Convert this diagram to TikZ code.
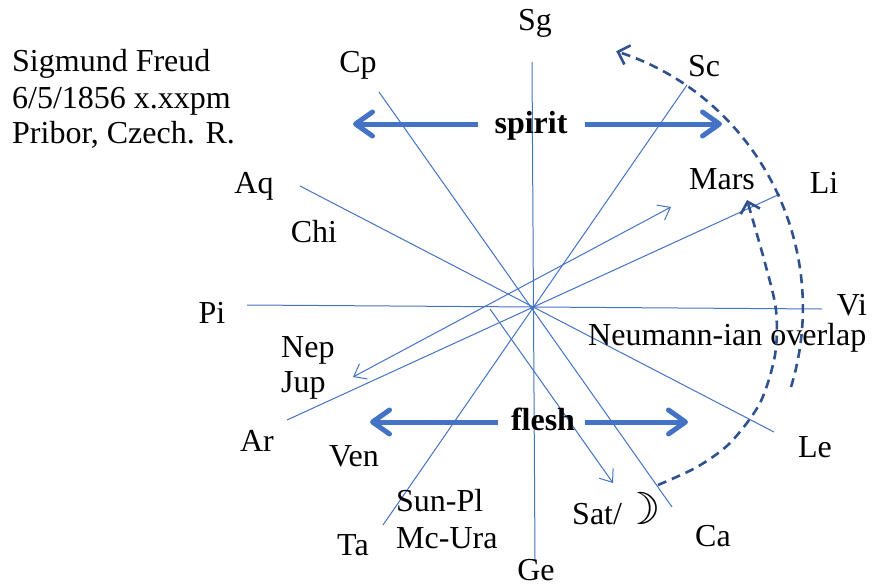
\documentclass[tikz,border=0pt]{standalone}
\usepackage{fontspec}
\setmainfont{Liberation Serif}
\newfontfamily\symfont{DejaVu Sans}
\usetikzlibrary{arrows.meta}
\definecolor{wblue}{RGB}{68,114,196}
\definecolor{wdark}{RGB}{47,82,143}

\begin{document}
\begin{tikzpicture}[
  x=1pt, y=-1pt,
  font=\fontsize{32}{36}\selectfont,
  lab/.style={inner sep=0pt, anchor=base},
  labl/.style={inner sep=0pt, anchor=base west},
  spoke/.style={wblue, line width=1pt},
  aspect/.style={spoke, -{Straight Barb[length=11pt, width=17pt]}},
  opposition/.style={spoke, {Straight Barb[length=11pt, width=17pt]}-{Straight Barb[length=11pt, width=17pt]}},
  polarity/.style={wblue, line width=5pt, -{Straight Barb[length=17pt, width=24pt, round]}},
  sweep/.style={wdark, line width=2.6pt, dash pattern=on 9pt off 6pt, -{Straight Barb[length=10pt, width=20pt]}},
]
\useasboundingbox (0,0) rectangle (875,586);

% ---- spoke ends (chart centre at c)
\coordinate (c)   at (533,308);
\coordinate (sg0) at (532,62);  \coordinate (ge0) at (535,560);
\coordinate (cp0) at (379,92);  \coordinate (ca0) at (672,507);
\coordinate (sc0) at (687,85);  \coordinate (ta0) at (383,525);
\coordinate (aq0) at (300,186); \coordinate (le0) at (774,432);
\coordinate (pi0) at (247,305); \coordinate (vi0) at (822,309);
\coordinate (ar0) at (287,420); \coordinate (li0) at (780,194);

% ---- planet arrows
\coordinate (nep0)  at (353,377); \coordinate (mars0) at (671,207);
\coordinate (sat1)  at (490,309); \coordinate (sat0)  at (613,483);

% ---- spirit / flesh arrows
\coordinate (spL) at (478,124); \coordinate (spLt) at (353,124);
\coordinate (spR) at (585,124); \coordinate (spRt) at (722,124);
\coordinate (flL) at (498,422); \coordinate (flLt) at (370,422);
\coordinate (flR) at (585,422); \coordinate (flRt) at (688,422);

% ---- overlap sweeps
\coordinate (ovl0) at (791,387);
\coordinate (ovl1) at (658,485); \coordinate (ovl2) at (747,200);

% ---- spokes
\draw[spoke] (sg0) -- (ge0);
\draw[spoke] (cp0) -- (ca0);
\draw[spoke] (sc0) -- (ta0);
\draw[spoke] (aq0) -- (le0);
\draw[spoke] (pi0) -- (vi0);
\draw[spoke] (ar0) -- (li0);
\draw[opposition] (nep0) -- (mars0);
\draw[aspect] (sat1) -- (sat0);

% ---- sign labels
\node[lab] (sg) at (535,31)  {Sg};
\node[lab] (cp) at (358,73)  {Cp};
\node[lab] (sc) at (704,76)  {Sc};
\node[lab] (aq) at (254,193) {Aq};
\node[lab] (li) at (824,193) {Li};
\node[lab] (pi) at (212,323) {Pi};
\node[lab] (vi) at (852,315) {Vi};
\node[lab] (ar) at (257,451) {Ar};
\node[lab] (le) at (815,457) {Le};
\node[lab] (ta) at (353,555) {Ta};
\node[lab] (ca) at (713,546) {Ca};
\node[lab] (ge) at (536,580) {Ge};

% ---- planet labels
\node[lab]  (chi)  at (314,242) {Chi};
\node[lab]  (mars) at (722,189) {Mars};
\node[labl] (nep)  at (281,357) {Nep};
\node[labl] (jup)  at (281,392) {Jup};
\node[lab]  (ven)  at (354,466) {Ven};
\node[labl] (sun)  at (396,511) {Sun-Pl};
\node[labl] (mc)   at (396,548) {Mc-Ura};
\node[labl] (sat)  at (572,524) {Sat/{\symfont\fontsize{44}{48}\selectfont ☽}};
\node[labl] (ovl)  at (588,345) {Neumann-ian overlap};

% ---- chart data
\node[labl] (who)   at (12,71)  {Sigmund Freud};
\node[labl] (born)  at (12,108) {6/5/1856 x.xxpm};
\node[labl] (place) at (12,143) {Pribor, Czech. R.};

% ---- spirit and flesh
\node[lab, font=\fontsize{32}{36}\selectfont\bfseries] (spirit) at (531,133) {spirit};
\node[lab, font=\fontsize{32}{36}\selectfont\bfseries] (flesh)  at (543,430) {flesh};
\draw[polarity] (spL) -- (spLt);
\draw[polarity] (spR) -- (spRt);
\draw[polarity] (flL) -- (flLt);
\draw[polarity] (flR) -- (flRt);

% ---- overlap sweeps
\draw[sweep] (ovl0) arc[start angle=17, end angle=-72, radius=270];
\draw[sweep] plot[smooth] coordinates {(ovl1) (697,467) (730,443) (760,403) (775,355) (776,310) (765,263) (ovl2)};

\end{tikzpicture}
\end{document}
